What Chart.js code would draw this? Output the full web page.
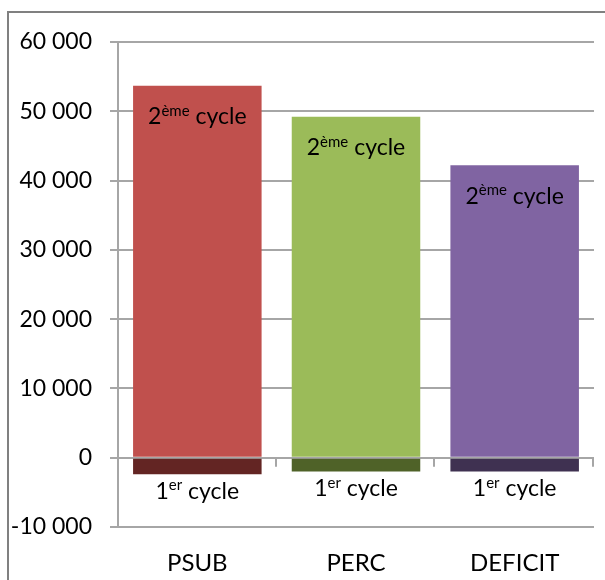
<!DOCTYPE html>
<html>
<head>
<meta charset="utf-8">
<script src="https://cdn.jsdelivr.net/npm/chart.js@4"></script>
<style>
    html, body { margin: 0; padding: 0; background: #fff; }
    canvas { display: block; }
</style>
</head>
<body>
<canvas id="cycleChart" width="605" height="580"></canvas>
<script>
// Chart data
const categories = ['PSUB', 'PERC', 'DEFICIT'];
const cycle2Values = [53700, 49200, 42200];
const cycle1Values = [-2400, -2000, -2000];
const cycle2Colors = ['#C0504D', '#9BBB59', '#8064A2'];
const cycle1Colors = ['#632523', '#4F6228', '#3F3151'];
const yMin = -10000;
const yMax = 60000;
const yStep = 10000;

const FONT = 'Lato, "Open Sans", sans-serif';
const GRID_COLOR = '#a6a6a6';

function formatThousands(v) {
    return String(v).replace(/\B(?=(\d{3})+(?!\d))/g, ' ');
}

// Text like "2ème cycle": base, raised small part, then the rest
function drawSupText(ctx, base, sup, rest, cx, cy, size) {
    const supSize = Math.round(size * 0.66);
    ctx.font = `${size}px ${FONT}`;
    const wBase = ctx.measureText(base).width;
    const wRest = ctx.measureText(rest).width;
    ctx.font = `${supSize}px ${FONT}`;
    const wSup = ctx.measureText(sup).width;

    let x = cx - (wBase + wSup + wRest) / 2;
    const baseline = cy + size * 0.36;
    ctx.textAlign = 'left';
    ctx.textBaseline = 'alphabetic';
    ctx.fillStyle = '#000';

    ctx.font = `${size}px ${FONT}`;
    ctx.fillText(base, x, baseline);
    x += wBase;
    ctx.font = `${supSize}px ${FONT}`;
    ctx.fillText(sup, x, baseline - size * 0.36);
    x += wSup;
    ctx.font = `${size}px ${FONT}`;
    ctx.fillText(rest, x, baseline);
}

// White background and the outer frame (left and top edges)
const framePlugin = {
    id: 'frame',
    beforeDraw(chart) {
        const ctx = chart.ctx;
        ctx.save();
        ctx.fillStyle = '#fff';
        ctx.fillRect(0, 0, chart.width, chart.height);
        ctx.strokeStyle = '#808080';
        ctx.lineWidth = 2;
        ctx.beginPath();
        ctx.moveTo(8, chart.height);
        ctx.lineTo(8, 12);
        ctx.lineTo(chart.width, 12);
        ctx.stroke();
        ctx.restore();
    }
};

// Small tick marks under the zero line at category boundaries
const zeroTicksPlugin = {
    id: 'zeroTicks',
    beforeDatasetsDraw(chart) {
        const ctx = chart.ctx;
        const xs = chart.scales.x;
        const y0 = chart.scales.y.getPixelForValue(0);
        const step = xs.width / categories.length;
        ctx.save();
        ctx.strokeStyle = GRID_COLOR;
        ctx.lineWidth = 2;
        for (let i = 1; i <= categories.length; i++) {
            const x = Math.round(xs.left + i * step) - 1;
            ctx.beginPath();
            ctx.moveTo(x, y0);
            ctx.lineTo(x, y0 + 9);
            ctx.stroke();
        }
        ctx.restore();
    }
};

// Series labels on each bar
const cycleLabelsPlugin = {
    id: 'cycleLabels',
    afterDatasetsDraw(chart) {
        const ctx = chart.ctx;
        ctx.save();
        chart.getDatasetMeta(0).data.forEach(bar => {
            drawSupText(ctx, '2', 'ème', ' cycle', bar.x, bar.y + 30, 23);
        });
        chart.getDatasetMeta(1).data.forEach(bar => {
            drawSupText(ctx, '1', 'er', ' cycle', bar.x, bar.y + 16, 23);
        });
        ctx.restore();
    }
};

const ctx = document.getElementById('cycleChart').getContext('2d');
new Chart(ctx, {
    type: 'bar',
    data: {
        labels: categories,
        datasets: [{
            label: '2ème cycle',
            data: cycle2Values,
            backgroundColor: cycle2Colors,
            barPercentage: 0.81,
            categoryPercentage: 1
        }, {
            label: '1er cycle',
            data: cycle1Values,
            backgroundColor: cycle1Colors,
            barPercentage: 0.81,
            categoryPercentage: 1
        }]
    },
    options: {
        responsive: false,
        animation: false,
        layout: {
            padding: { left: 0, top: 42, right: 11, bottom: 0 }
        },
        plugins: {
            legend: { display: false },
            tooltip: { enabled: false }
        },
        scales: {
            x: {
                stacked: true,
                grid: { display: false, drawTicks: false },
                border: { display: false },
                ticks: {
                    color: '#000',
                    padding: 22,
                    font: { family: FONT, size: 24 }
                },
                afterFit(scale) { scale.height = 53; }
            },
            y: {
                stacked: true,
                min: yMin,
                max: yMax,
                grid: {
                    color: GRID_COLOR,
                    lineWidth: 2,
                    tickLength: 8
                },
                border: { display: true, color: GRID_COLOR, width: 2 },
                ticks: {
                    stepSize: yStep,
                    color: '#000',
                    padding: 18,
                    font: { family: FONT, size: 23 },
                    callback: v => formatThousands(v)
                },
                afterFit(scale) { scale.width = 118; }
            }
        }
    },
    plugins: [framePlugin, zeroTicksPlugin, cycleLabelsPlugin]
});
</script>
</body>
</html>
